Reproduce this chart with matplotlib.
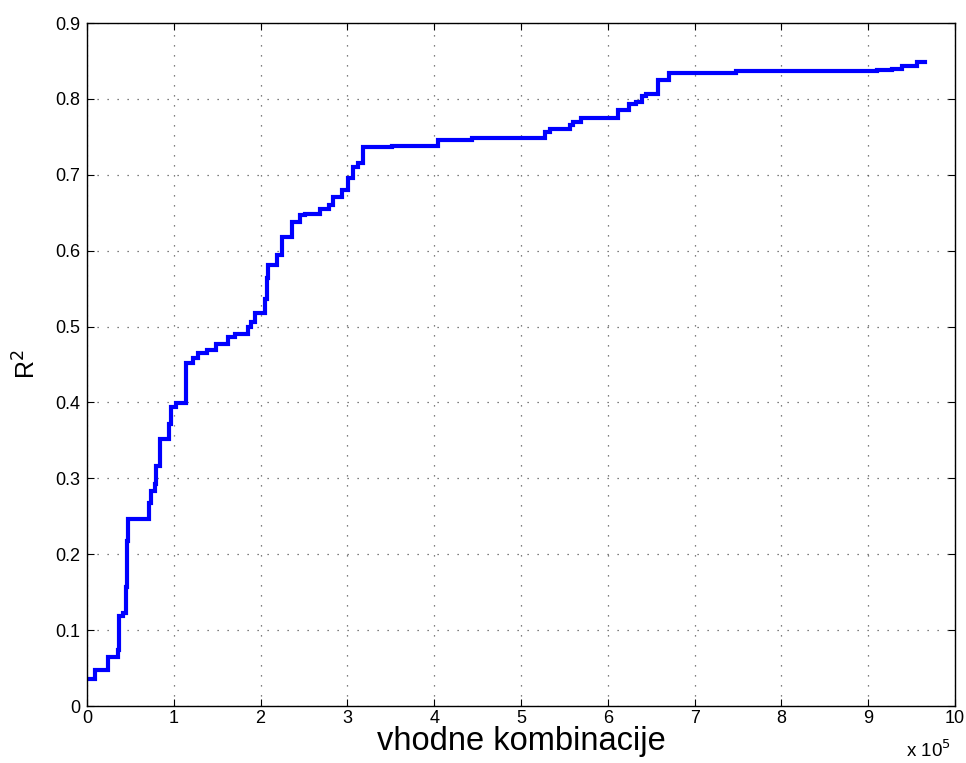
import matplotlib
matplotlib.use("Agg")
import matplotlib.pyplot as plt

plt.rcParams["font.family"] = ["Liberation Sans", "DejaVu Sans"]

# number of input combinations (x 1e5) where the best R^2 improves
combinations = [
    0.00, 0.09, 0.245, 0.355, 0.37, 0.41, 0.455, 0.46, 0.465, 0.475,
    0.714, 0.74, 0.78, 0.80, 0.84, 0.94, 0.97, 1.03, 1.14, 1.22,
    1.28, 1.38, 1.49, 1.62, 1.71, 1.85, 1.89, 1.94, 2.05, 2.08,
    2.09, 2.19, 2.25, 2.36, 2.46, 2.51, 2.69, 2.79, 2.83, 2.94,
    3.01, 3.06, 3.12, 3.18, 3.52, 4.04, 4.44, 5.28, 5.33, 5.56,
    5.60, 5.69, 6.12, 6.25, 6.33, 6.40, 6.44, 6.58, 6.71, 7.48,
    9.10, 9.27, 9.39, 9.56, 9.66,
]
# best R^2 reached from that point on
r2 = [
    0.036, 0.048, 0.065, 0.074, 0.118, 0.122, 0.157, 0.200, 0.218, 0.247,
    0.267, 0.284, 0.293, 0.316, 0.352, 0.372, 0.394, 0.399, 0.452, 0.459,
    0.465, 0.469, 0.477, 0.486, 0.490, 0.499, 0.506, 0.518, 0.537, 0.564,
    0.581, 0.594, 0.618, 0.638, 0.647, 0.649, 0.655, 0.660, 0.671, 0.680,
    0.6955, 0.711, 0.715, 0.737, 0.738, 0.746, 0.748, 0.757, 0.761, 0.766,
    0.770, 0.775, 0.786, 0.794, 0.796, 0.804, 0.807, 0.825, 0.834, 0.837,
    0.838, 0.840, 0.843, 0.849, 0.849,
]

x_ticks = list(range(0, 11))
y_ticks = [0, 0.1, 0.2, 0.3, 0.4, 0.5, 0.6, 0.7, 0.8, 0.9]

fig = plt.figure(figsize=(9.66, 7.63), dpi=100)
ax = fig.add_axes([0.090, 0.0747, 0.8986, 0.895])

ax.step(combinations, r2, where="post", color=(0, 0, 1), lw=3.0,
        solid_joinstyle="miter")

ax.set_xlim(0, 10)
ax.set_ylim(0, 0.9)
ax.set_xticks(x_ticks)
ax.set_yticks(y_ticks)
ax.set_xticklabels([str(t) for t in x_ticks])
ax.set_yticklabels(["0"] + ["%.1f" % t for t in y_ticks[1:]])

ax.grid(True, color="#555555", linestyle=(0, (1, 7)), linewidth=0.9)
ax.tick_params(direction="in", top=True, right=True, length=5,
               labelsize=13, width=0.8)
ax.tick_params(axis="x", pad=3)
ax.tick_params(axis="y", pad=5)
for sp in ax.spines.values():
    sp.set_linewidth(1.0)

ax.set_xlabel("vhodne kombinacije", fontsize=23.5, labelpad=-1)
ax.set_ylabel("R$^2$", fontsize=18, labelpad=10)
fig.text(0.984, 0.003, "x 10$^5$", fontsize=13.5, ha="right", va="bottom")

fig.savefig("out.png", dpi=100)
